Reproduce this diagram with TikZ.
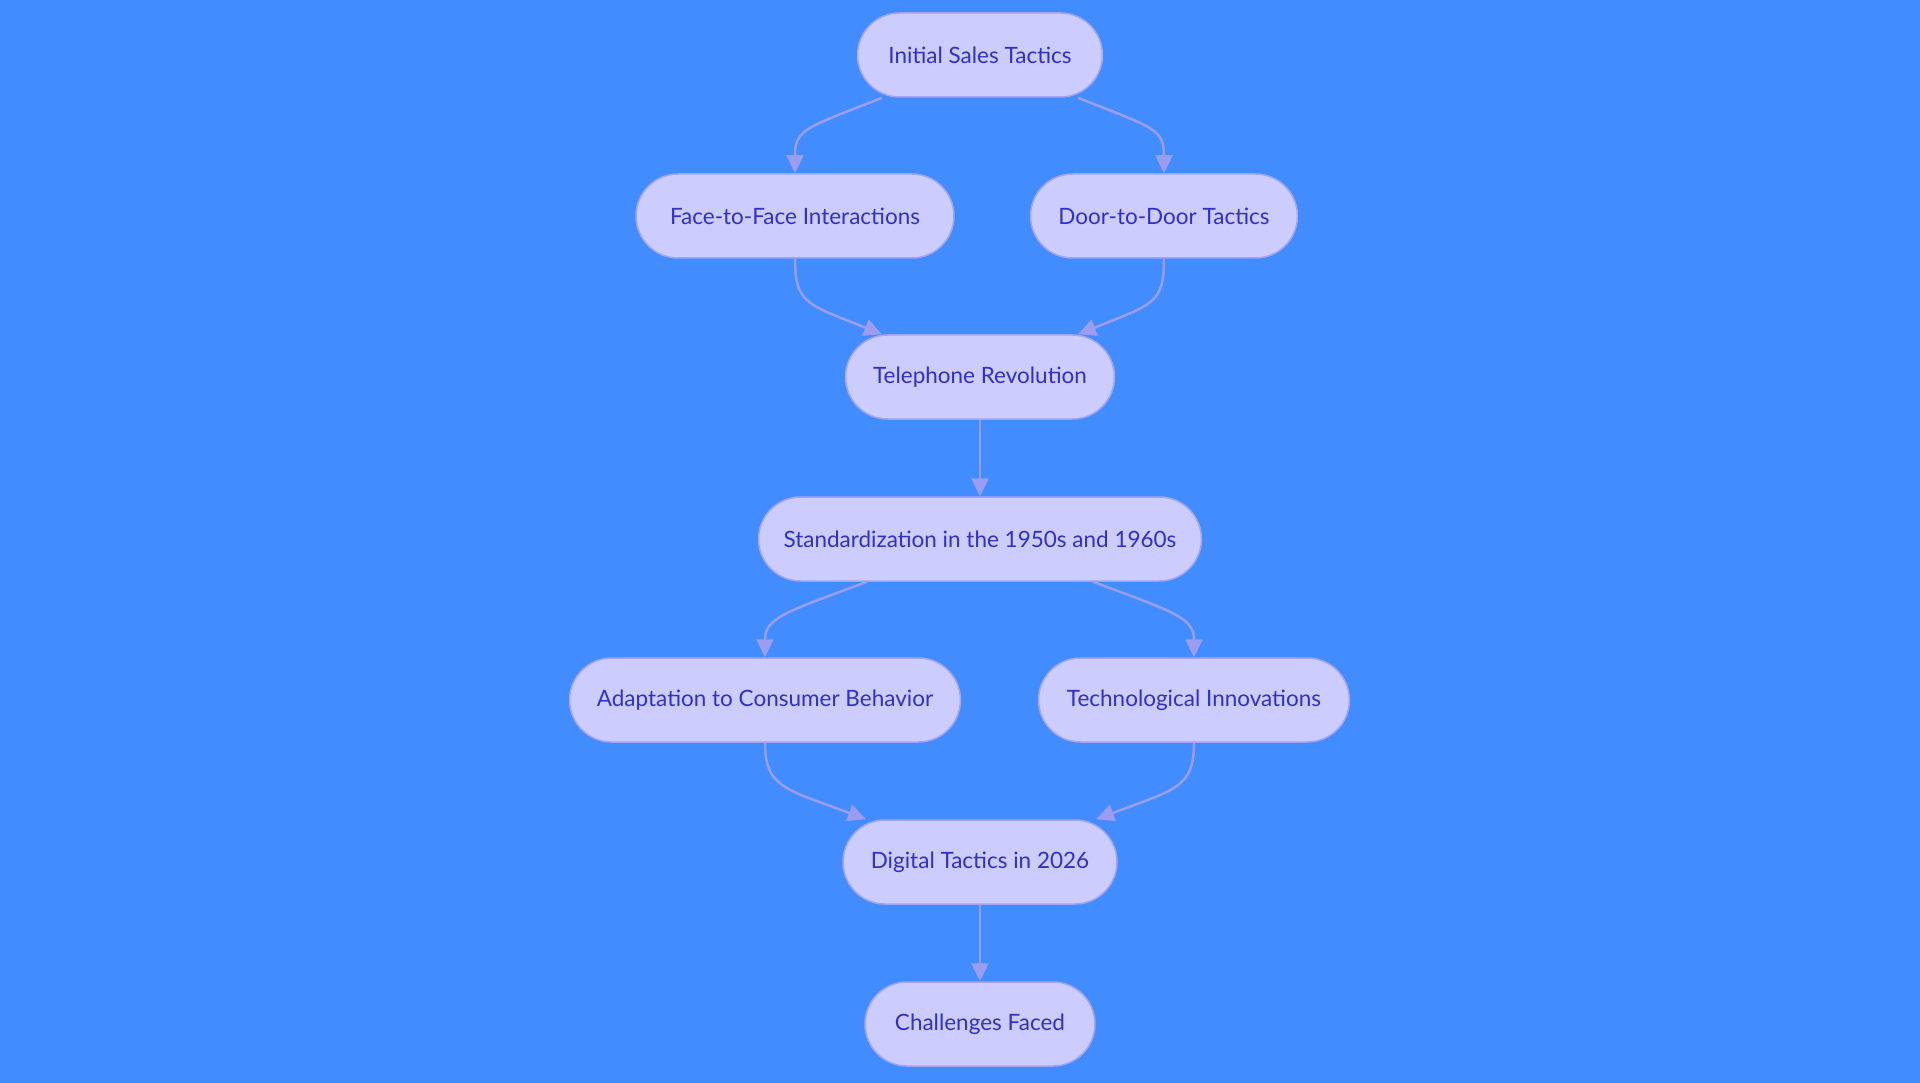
\documentclass[tikz,border=0pt]{standalone}
\usepackage{fontspec}
\setmainfont{Lato}
\usetikzlibrary{arrows.meta}
\definecolor{bg}{HTML}{418CFF}
\definecolor{boxfill}{HTML}{CCCCFF}
\definecolor{boxline}{HTML}{A3A3F0}
\definecolor{txt}{HTML}{3030CC}
\definecolor{linkcol}{HTML}{9C9CF0}

\begin{document}
\begin{tikzpicture}[x=1pt,y=-1pt,
  box/.style={draw=boxline,fill=boxfill,line width=1.5pt,rounded corners=42pt,
    minimum height=84pt,text=txt,font=\fontsize{22.5}{27}\selectfont},
  link/.style={draw=linkcol,line width=2.5pt,-{Triangle[length=18pt,width=17pt]}}]
\fill[bg] (0,0) rectangle (1920,1083);
\useasboundingbox (0,0) rectangle (1920,1083);
\node[box,minimum width=245pt] (init) at (980,55) {Initial Sales Tactics};
\node[box,minimum width=318pt] (face) at (795,216) {Face-to-Face Interactions};
\node[box,minimum width=267pt] (door) at (1164,216) {Door-to-Door Tactics};
\node[box,minimum width=269pt] (tel) at (980,377) {Telephone Revolution};
\node[box,minimum width=443pt] (std) at (980,539) {Standardization in the 1950s and 1960s};
\node[box,minimum width=391pt] (adapt) at (765,700) {Adaptation to Consumer Behavior};
\node[box,minimum width=311pt] (tech) at (1194,700) {Technological Innovations};
\node[box,minimum width=274pt] (dig) at (980,862) {Digital Tactics in 2026};
\node[box,minimum width=230pt] (chal) at (980,1024) {Challenges Faced};
\draw[link] ([xshift=-98pt]init.south) .. controls +(-75,30) and +(0,-45) .. (face.north);
\draw[link] ([xshift=98pt]init.south) .. controls +(75,30) and +(0,-45) .. (door.north);
\draw[link] (face.south) .. controls +(0,45) and +(-75,-30) .. ([xshift=-98pt]tel.north);
\draw[link] (door.south) .. controls +(0,45) and +(75,-30) .. ([xshift=98pt]tel.north);
\draw[link] (tel) -- (std);
\draw[link] ([xshift=-113pt]std.south) .. controls +(-80,30) and +(0,-40) .. (adapt.north);
\draw[link] ([xshift=113pt]std.south) .. controls +(80,30) and +(0,-40) .. (tech.north);
\draw[link] (adapt.south) .. controls +(0,45) and +(-80,-30) .. ([xshift=-114pt]dig.north);
\draw[link] (tech.south) .. controls +(0,45) and +(80,-30) .. ([xshift=116pt]dig.north);
\draw[link] (dig) -- (chal);
\end{tikzpicture}
\end{document}
